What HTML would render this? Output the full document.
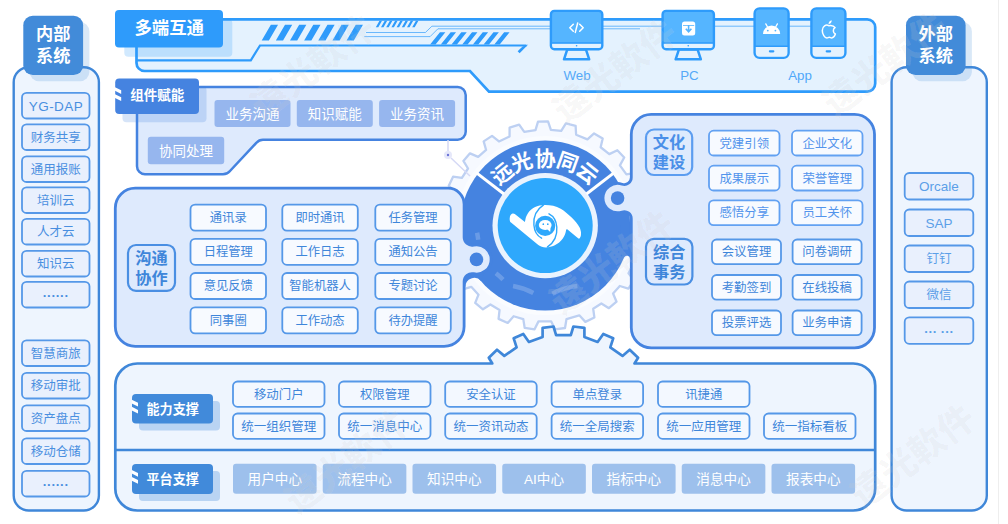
<!DOCTYPE html>
<html lang="zh-CN"><head><meta charset="utf-8"><title>远光协同云</title>
<style>
html,body{margin:0;padding:0;background:#fff;}
body{width:1008px;height:524px;overflow:hidden;}
svg{display:block;font-family:'Liberation Sans','Noto Sans CJK SC',sans-serif;}
</style></head><body>
<svg width="1008" height="524" viewBox="0 0 1008 524">
<rect x="13.7" y="67.2" width="85.2" height="443.3" rx="15" fill="#EEF5FE" stroke="#3F87D9" stroke-width="2.4" />
<rect x="29.6" y="22" width="59.8" height="59.3" rx="9.5" fill="#428BD9" opacity="0.2"/>
<rect x="23.3" y="15.7" width="59.8" height="59.3" rx="9.5" fill="#428BD9" />
<text x="53.2" y="40.49" font-size="17.2" fill="#fff" font-weight="700" text-anchor="middle" >内部</text>
<text x="53.2" y="62.19" font-size="17.2" fill="#fff" font-weight="700" text-anchor="middle" >系统</text>
<rect x="891.6" y="67.2" width="95.2" height="443.3" rx="15" fill="#EEF5FE" stroke="#3F87D9" stroke-width="2.4" />
<rect x="912.3" y="22" width="59.6" height="59.3" rx="9.5" fill="#428BD9" opacity="0.2"/>
<rect x="906" y="15.7" width="59.6" height="59.3" rx="9.5" fill="#428BD9" />
<text x="935.8" y="40.49" font-size="17.2" fill="#fff" font-weight="700" text-anchor="middle" >外部</text>
<text x="935.8" y="62.19" font-size="17.2" fill="#fff" font-weight="700" text-anchor="middle" >系统</text>
<rect x="22" y="92.9" width="67.5" height="25.6" rx="4.6" fill="#E9F0FD" stroke="#5598E8" stroke-width="1.8" />
<text x="55.75" y="110.56" font-size="13.5" fill="#4A8FE0" font-weight="400" text-anchor="middle" textLength="54">YG-DAP</text>
<rect x="22" y="124.4" width="67.5" height="25.6" rx="4.6" fill="#E9F0FD" stroke="#5598E8" stroke-width="1.8" />
<text x="55.75" y="141.7" font-size="12.5" fill="#4A8FE0" font-weight="400" text-anchor="middle" >财务共享</text>
<rect x="22" y="156.4" width="67.5" height="25.6" rx="4.6" fill="#E9F0FD" stroke="#5598E8" stroke-width="1.8" />
<text x="55.75" y="173.7" font-size="12.5" fill="#4A8FE0" font-weight="400" text-anchor="middle" >通用报账</text>
<rect x="22" y="187.4" width="67.5" height="25.6" rx="4.6" fill="#E9F0FD" stroke="#5598E8" stroke-width="1.8" />
<text x="55.75" y="204.7" font-size="12.5" fill="#4A8FE0" font-weight="400" text-anchor="middle" >培训云</text>
<rect x="22" y="218.9" width="67.5" height="25.6" rx="4.6" fill="#E9F0FD" stroke="#5598E8" stroke-width="1.8" />
<text x="55.75" y="236.2" font-size="12.5" fill="#4A8FE0" font-weight="400" text-anchor="middle" >人才云</text>
<rect x="22" y="250.9" width="67.5" height="25.6" rx="4.6" fill="#E9F0FD" stroke="#5598E8" stroke-width="1.8" />
<text x="55.75" y="268.2" font-size="12.5" fill="#4A8FE0" font-weight="400" text-anchor="middle" >知识云</text>
<rect x="22" y="281.9" width="67.5" height="25.6" rx="4.6" fill="#E9F0FD" stroke="#5598E8" stroke-width="1.8" />
<text x="55.75" y="299.68" font-size="13" fill="#4A8FE0" font-weight="700" text-anchor="middle" >······</text>
<rect x="22" y="340.4" width="67.5" height="25.6" rx="4.6" fill="#E9F0FD" stroke="#5598E8" stroke-width="1.8" />
<text x="55.75" y="357.7" font-size="12.5" fill="#4A8FE0" font-weight="400" text-anchor="middle" >智慧商旅</text>
<rect x="22" y="372.9" width="67.5" height="25.6" rx="4.6" fill="#E9F0FD" stroke="#5598E8" stroke-width="1.8" />
<text x="55.75" y="390.2" font-size="12.5" fill="#4A8FE0" font-weight="400" text-anchor="middle" >移动审批</text>
<rect x="22" y="405.4" width="67.5" height="25.6" rx="4.6" fill="#E9F0FD" stroke="#5598E8" stroke-width="1.8" />
<text x="55.75" y="422.7" font-size="12.5" fill="#4A8FE0" font-weight="400" text-anchor="middle" >资产盘点</text>
<rect x="22" y="438.4" width="67.5" height="25.6" rx="4.6" fill="#E9F0FD" stroke="#5598E8" stroke-width="1.8" />
<text x="55.75" y="455.7" font-size="12.5" fill="#4A8FE0" font-weight="400" text-anchor="middle" >移动仓储</text>
<rect x="22" y="470.9" width="67.5" height="25.6" rx="4.6" fill="#E9F0FD" stroke="#5598E8" stroke-width="1.8" />
<text x="55.75" y="488.68" font-size="13" fill="#4A8FE0" font-weight="700" text-anchor="middle" >······</text>
<rect x="904.7" y="173" width="68.6" height="26.5" rx="4.6" fill="#E9F0FD" stroke="#5598E8" stroke-width="1.8" />
<text x="939" y="191.11" font-size="13.5" fill="#5B9FE8" font-weight="400" text-anchor="middle" >Orcale</text>
<rect x="904.7" y="209.5" width="68.6" height="26.5" rx="4.6" fill="#E9F0FD" stroke="#5598E8" stroke-width="1.8" />
<text x="939" y="227.61" font-size="13.5" fill="#5B9FE8" font-weight="400" text-anchor="middle" >SAP</text>
<rect x="904.7" y="245.5" width="68.6" height="26.5" rx="4.6" fill="#E9F0FD" stroke="#5598E8" stroke-width="1.8" />
<text x="939" y="263.25" font-size="12.5" fill="#5B9FE8" font-weight="400" text-anchor="middle" >钉钉</text>
<rect x="904.7" y="281.5" width="68.6" height="26.5" rx="4.6" fill="#E9F0FD" stroke="#5598E8" stroke-width="1.8" />
<text x="939" y="299.25" font-size="12.5" fill="#5B9FE8" font-weight="400" text-anchor="middle" >微信</text>
<rect x="904.7" y="317.3" width="68.6" height="26.5" rx="4.6" fill="#E9F0FD" stroke="#5598E8" stroke-width="1.8" />
<text x="939" y="335.53" font-size="13" fill="#5B9FE8" font-weight="700" text-anchor="middle" >··· ···</text>
<path d="M144.5,19.3 H867.2 a8,8 0 0 1 8,8 V83.6 a8,8 0 0 1 -8,8 H489 L470,71 H144.5 a8,8 0 0 1 -8,-8 V27.3 a8,8 0 0 1 8,-8 Z" fill="#E4F2FE" stroke="#2E9BFB" stroke-width="2.7"/>
<path d="M136.5,60.3 H250.8 L260,45.5 H526.5" fill="none" stroke="#2E9BFB" stroke-width="2.2"/>
<path d="M528.2,44.5 L519.6,53.2 L517.6,51.2 L522.6,46.4 Z" fill="#2E9BFB"/>
<path d="M261.7,40.5 L270.85,24.7 L278.05,24.7 L268.9,40.5 Z M275.85,40.5 L285,24.7 L292.2,24.7 L283.05,40.5 Z M290,40.5 L299.15,24.7 L306.35,24.7 L297.2,40.5 Z M304.15,40.5 L313.3,24.7 L320.5,24.7 L311.35,40.5 Z M318.3,40.5 L327.45,24.7 L334.65,24.7 L325.5,40.5 Z M332.45,40.5 L341.6,24.7 L348.8,24.7 L339.65,40.5 Z M346.6,40.5 L355.75,24.7 L362.95,24.7 L353.8,40.5 Z " fill="#2E9BFB"/>
<path d="M375.8,27.2 L379.51,20.8 L382.01,20.8 L378.3,27.2 Z M381,27.2 L384.71,20.8 L387.21,20.8 L383.5,27.2 Z M386.2,27.2 L389.91,20.8 L392.41,20.8 L388.7,27.2 Z M391.4,27.2 L395.11,20.8 L397.61,20.8 L393.9,27.2 Z M396.6,27.2 L400.31,20.8 L402.81,20.8 L399.1,27.2 Z M401.8,27.2 L405.51,20.8 L408.01,20.8 L404.3,27.2 Z M407,27.2 L410.71,20.8 L413.21,20.8 L409.5,27.2 Z M412.2,27.2 L415.91,20.8 L418.41,20.8 L414.7,27.2 Z " fill="#2E9BFB"/>
<path d="M430.1,44.6 L439.94,32.3 L445.34,32.3 L435.5,44.6 Z M440.8,44.6 L450.64,32.3 L456.04,32.3 L446.2,44.6 Z M451.5,44.6 L461.34,32.3 L466.74,32.3 L456.9,44.6 Z M462.2,44.6 L472.04,32.3 L477.44,32.3 L467.6,44.6 Z M472.9,44.6 L482.74,32.3 L488.14,32.3 L478.3,44.6 Z M483.6,44.6 L493.44,32.3 L498.84,32.3 L489,44.6 Z M494.3,44.6 L504.14,32.3 L509.54,32.3 L499.7,44.6 Z " fill="#2E9BFB"/>
<path d="M366,32.5 H425.4 L431.9,26.2 H811" fill="none" stroke="#2E9BFB" stroke-width="0.9" opacity="0.75"/>
<path d="M364.3,36.6 H430.1 L437.9,28.8 H640" fill="none" stroke="#2E9BFB" stroke-width="0.9" opacity="0.75"/>
<rect x="124.3" y="19.3" width="108" height="37.5" rx="4" fill="#2E9BFB" opacity="0.22"/>
<rect x="115" y="10" width="108" height="37.5" rx="4" fill="#2E9BFB" />
<text x="169.2" y="34.16" font-size="17.4" fill="#fff" font-weight="700" text-anchor="middle" >多端互通</text>
<path d="M567.3,49.4 L564,59.3 H589.2 L585.9,49.4 Z" fill="#E4F2FE" stroke="#2E9BFB" stroke-width="2.5" stroke-linejoin="round"/>
<rect x="550.9" y="10.9" width="51.4" height="38.3" rx="3.5" fill="#55B5FF" stroke="#2E9BFB" stroke-width="2.4" />
<path d="M552.1,43.2 H601.1 V46 a2,2 0 0 1 -2,2 H554.1 a2,2 0 0 1 -2,-2 Z" fill="#E4F2FE"/>
<line x1="550.9" y1="43" x2="602.3" y2="43" stroke="#2E9BFB" stroke-width="1.6"/>
<circle cx="576.6" cy="45.8" r="0.8" fill="#2E9BFB"/>
<text x="577" y="79.79" font-size="13.3" fill="#55A9F8" font-weight="400" text-anchor="middle" >Web</text>
<path d="M678.95,49.4 L675.65,59.3 H700.85 L697.55,49.4 Z" fill="#E4F2FE" stroke="#2E9BFB" stroke-width="2.5" stroke-linejoin="round"/>
<rect x="662.6" y="10.9" width="51.3" height="38.3" rx="3.5" fill="#55B5FF" stroke="#2E9BFB" stroke-width="2.4" />
<path d="M663.8,43.2 H712.7 V46 a2,2 0 0 1 -2,2 H665.8 a2,2 0 0 1 -2,-2 Z" fill="#E4F2FE"/>
<line x1="662.6" y1="43" x2="713.9" y2="43" stroke="#2E9BFB" stroke-width="1.6"/>
<circle cx="688.25" cy="45.8" r="0.8" fill="#2E9BFB"/>
<text x="689.5" y="79.79" font-size="13.3" fill="#55A9F8" font-weight="400" text-anchor="middle" >PC</text>
<path d="M573.3,24.2 L569.8,27.7 L573.3,31.2 M579.7,24.2 L583.2,27.7 L579.7,31.2 M577.7,23 L575.3,32.4" fill="none" stroke="#fff" stroke-width="1.5" stroke-linecap="round" stroke-linejoin="round"/>
<rect x="682" y="21.6" width="13.2" height="14" rx="2.5" fill="#fff" />
<path d="M688.6,25 V31.5 M685.8,28.8 L688.6,31.8 L691.4,28.8" fill="none" stroke="#55B5FF" stroke-width="1.6"/>
<path d="M683,25.5 H694.2" stroke="#55B5FF" stroke-width="0.8" fill="none"/>
<rect x="754.6" y="8.4" width="34" height="49.5" rx="5" fill="#55B5FF" stroke="#2E9BFB" stroke-width="2.4" />
<path d="M755.8,46.4 H787.4 V52.7 a4,4 0 0 1 -4,4 H759.8 a4,4 0 0 1 -4,-4 Z" fill="#E4F2FE"/>
<line x1="754.6" y1="46.3" x2="788.6" y2="46.3" stroke="#2E9BFB" stroke-width="1.6"/>
<rect x="768.8" y="50.2" width="5.6" height="2.2" rx="1.1" fill="#2E9BFB" />
<rect x="811.4" y="8.4" width="34" height="49.5" rx="5" fill="#55B5FF" stroke="#2E9BFB" stroke-width="2.4" />
<path d="M812.6,46.4 H844.2 V52.7 a4,4 0 0 1 -4,4 H816.6 a4,4 0 0 1 -4,-4 Z" fill="#E4F2FE"/>
<line x1="811.4" y1="46.3" x2="845.4" y2="46.3" stroke="#2E9BFB" stroke-width="1.6"/>
<rect x="825.6" y="50.2" width="5.6" height="2.2" rx="1.1" fill="#2E9BFB" />
<text x="800" y="79.79" font-size="13.3" fill="#4FA8FA" font-weight="400" text-anchor="middle" >App</text>
<path d="M763,34 a8.6,8.6 0 0 1 17.2,0 Z" fill="#fff"/>
<path d="M767.4,26.8 l-1.6,-2.9 M775.8,26.8 l1.6,-2.9" stroke="#fff" stroke-width="1.3" stroke-linecap="round"/>
<circle cx="767.8" cy="30.6" r="0.9" fill="#55B5FF"/><circle cx="775.4" cy="30.6" r="0.9" fill="#55B5FF"/>
<path d="M828.7,25.7 c-2.4,-1.5 -6.4,0.2 -6.4,4.8 c0,4 2.4,7.4 4.6,7.4 c1,0 1.4,-0.6 2.4,-0.6 c1,0 1.4,0.6 2.4,0.6 c1.6,0 3,-2 3.7,-3.9 c-2.6,-1.1 -2.8,-5 -0.3,-6.3 c-1.3,-1.9 -3.9,-2.5 -6.4,-2 Z" fill="none" stroke="#fff" stroke-width="1.5" stroke-linejoin="round"/>
<path d="M828.5,24.1 c0,-2 1.4,-3.6 3.2,-3.8 c0.2,2 -1.4,3.8 -3.2,3.8 Z" fill="#fff"/>
<path d="M145,87 H457.7 a8,8 0 0 1 8,8 V131.7 a8,8 0 0 1 -8,8 H263 q-4,0 -6.5,3 L230,171 q-2.5,3.2 -7,3.2 H145 a8,8 0 0 1 -8,-8 V95 a8,8 0 0 1 8,-8 Z" fill="#DEEAFD" stroke="#4583E0" stroke-width="2.5"/>
<rect x="122.5" y="86.3" width="84" height="35.9" rx="4" fill="#4583E0" opacity="0.22"/>
<rect x="115.2" y="78.4" width="83.8" height="35.7" rx="4" fill="#4583E0" />
<path d="M115,87.15 l6.2,3.1 v3.7 l-6.2,-3.1 Z" fill="#fff"/>
<path d="M115,94.25 l6.2,3.1 v3.7 l-6.2,-3.1 Z" fill="#fff"/>
<text x="157.3" y="100.43" font-size="13.55" fill="#fff" font-weight="700" text-anchor="middle" >组件赋能</text>
<rect x="214.5" y="100" width="76" height="27" rx="3" fill="#96B6EE" />
<text x="252.5" y="118.86" font-size="13.5" fill="#fff" font-weight="400" text-anchor="middle" >业务沟通</text>
<rect x="296.8" y="100" width="76" height="27" rx="3" fill="#96B6EE" />
<text x="334.8" y="118.86" font-size="13.5" fill="#fff" font-weight="400" text-anchor="middle" >知识赋能</text>
<rect x="379.1" y="100" width="76" height="27" rx="3" fill="#96B6EE" />
<text x="417.1" y="118.86" font-size="13.5" fill="#fff" font-weight="400" text-anchor="middle" >业务资讯</text>
<rect x="147.8" y="136.7" width="76.4" height="27.5" rx="3" fill="#96B6EE" />
<text x="186" y="155.81" font-size="13.5" fill="#fff" font-weight="400" text-anchor="middle" >协同处理</text>
<path d="M449.52,217.73 L441.58,213.7 L443.2,203.83 L452.01,202.54 L455.34,191.82 L448.8,185.77 L453.07,176.71 L461.89,177.89 L468.03,168.5 L463.4,160.89 L469.98,153.34 L478.15,156.89 L486.1,149.95 L483.67,141.38 L492.03,135.87 L498.95,141.47 L509.55,136.47 L509.61,127.56 L519.17,124.6 L524.26,131.91 L535.5,130.09 L538.02,121.55 L548.02,121.34 L550.89,129.77 L561.21,130.94 L565.9,123.38 L575.61,125.83 L576.14,134.72 L587.43,139.39 L594.09,133.47 L602.69,138.58 L600.67,147.25 L609.31,154.15 L617.32,150.26 L624.21,157.52 L619.91,165.32 L626.43,174.44 L635.21,172.9 L639.84,181.77 L633.57,188.09 L637.34,198.66 L646.2,199.57 L648.23,209.37 L640.46,213.73 L641.19,224.59 L649.48,227.88 L648.78,237.86 L640.12,239.96 L638.18,249.47 L645.33,254.79 L642.07,264.25 L633.17,264.03 L628.51,273.31 L633.99,280.33 L628.33,288.59 L619.81,286.01 L613.08,293.48 L616.53,301.69 L608.91,308.18 L601.36,303.46 L593.2,308.74 L594.41,317.56 L585.37,321.86 L579.29,315.34 L566.47,319.21 L565.01,328 L555.11,329.43 L551.23,321.41 L538.5,321.37 L534.57,329.36 L524.67,327.86 L523.28,319.06 L513.63,316.26 L507.74,322.94 L498.58,318.9 L499.54,310.05 L490.41,304.43 L482.94,309.28 L475.21,302.93 L478.51,294.66 L471.23,286.79 L462.73,289.45 L456.99,281.26 L462.4,274.18 L457.57,264.8 L448.67,265.09 L445.33,255.66 L452.43,250.28 L450.41,240.78 L441.73,238.76 L440.95,228.79 L449.2,225.43 Z" fill="#F6F9FF" stroke="#BDD0F2" stroke-width="2.3" stroke-linejoin="round"/>
<circle cx="545.2" cy="225.6" r="89.5" fill="#FAFCFF"/>
<path d="M448,140 V152 M451,158 L470,176" stroke="#D5D9F5" stroke-width="1.5" fill="none"/>
<circle cx="448" cy="155" r="4" fill="#E6E8FA"/><circle cx="448" cy="155" r="1.2" fill="#6C74D8"/>
<circle cx="545.2" cy="225.6" r="85" fill="#4583E0"/>
<path d="M464.1,268 V286.8 H465.35 A9,9 0 0 1 481,280.9 L486,268 Z" fill="#4583E0"/>
<path d="M631.3,225 V258.7 H630 A3,3 0 0 0 624.2,257.6 L620,225 Z" fill="#4583E0"/>
<path d="M135.3,188.2 H448.1 a16,16 0 0 1 16,16 V237.23 A8,8 0 0 0 473.66,245.08 A14.6,14.6 0 1 1 473.66,273.72 A8,8 0 0 0 464.1,281.57 V326.4 a20,20 0 0 1 -20,20 H135.3 a20,20 0 0 1 -20,-20 V208.2 a20,20 0 0 1 20,-20 Z" fill="#DEEAFD" stroke="#4583E0" stroke-width="2.8"/>
<circle cx="476.5" cy="259.4" r="6.8" fill="#4583E0"/>
<path d="M651.3,114.3 H854.5 a20,20 0 0 1 20,20 V327.8 a20,20 0 0 1 -20,20 H651.3 a20,20 0 0 1 -20,-20 V218.63 A7,7 0 0 0 622.13,211.98 A14.6,14.6 0 1 1 622.13,184.22 A7,7 0 0 0 631.3,177.57 V134.3 a20,20 0 0 1 20,-20 Z" fill="#DEEAFD" stroke="#4583E0" stroke-width="2.8"/>
<circle cx="617.6" cy="198.1" r="6.8" fill="#4583E0"/>
<circle cx="545.2" cy="225.6" r="52.7" fill="#EAF3FE"/>
<circle cx="545.2" cy="225.6" r="47.5" fill="#2EA8FC"/>
<line x1="503.95" y1="193.94" x2="476.18" y2="172.64" stroke="#fff" stroke-width="3"/>
<line x1="586.45" y1="193.94" x2="614.22" y2="172.64" stroke="#fff" stroke-width="3"/>
<text x="545.2" y="165.8" font-size="21" font-weight="700" fill="#fff" text-anchor="middle" transform="rotate(-39.5 545.2 225.6)">远</text>
<text x="545.2" y="165.8" font-size="21" font-weight="700" fill="#fff" text-anchor="middle" transform="rotate(-20.5 545.2 225.6)">光</text>
<text x="545.2" y="165.8" font-size="21" font-weight="700" fill="#fff" text-anchor="middle" transform="rotate(0 545.2 225.6)">协</text>
<text x="545.2" y="165.8" font-size="21" font-weight="700" fill="#fff" text-anchor="middle" transform="rotate(19.5 545.2 225.6)">同</text>
<text x="545.2" y="165.8" font-size="21" font-weight="700" fill="#fff" text-anchor="middle" transform="rotate(38.8 545.2 225.6)">云</text>
<path fill="#fff" d="M545.2,204.9 C541,204.9 537.6,205.8 535.1,207.1 C532,208.8 529.6,210.8 528.1,213 C526.6,215.2 525.8,217.4 525.4,219.4 L524.9,222 L514.8,214 C514,213.4 513.3,213.3 512.6,213.5 C511.2,214 510.2,215.2 509.9,216.7 C509.6,218.2 509.5,219.6 509.9,221 C510.1,221.7 510.5,222.2 511,222.6 L538.3,245 C540.5,246.6 543,247.4 545.7,247.4 C549,247.4 551.8,246.8 554.3,245.6 C558,243.8 560.8,241.4 562.8,238.6 C564.6,236 565.7,233.2 566.1,230.1 L566.9,229 L577.8,238.1 C578.3,238.5 578.9,238.7 579.4,238.6 C580.6,237.4 580.9,235.8 581,234.3 C581.1,232.8 581,231.4 580.5,230.1 C580.3,229.4 580.2,228.6 579.9,227.9 C577.6,223.8 574.8,220.4 571.4,217.2 C568,214 564.6,211 560.7,208.7 C558.3,207.3 555.8,206.3 553.2,205.7 C550.6,205.1 548,204.9 545.2,204.9 Z"/><circle cx="545.2" cy="225.8" r="10.1" fill="#2EA8FC"/><path d="M543.3,205.2 C536.7,209.5 533.3,217 533.9,225 C534.4,231.5 537.4,236 541.6,238.2" fill="none" stroke="#2EA8FC" stroke-width="1.4" stroke-linecap="round"/><path d="M547.5,246.9 C554.1,242.5 557.4,235 556.8,227 C556.3,220.5 553.3,216 549,213.8" fill="none" stroke="#2EA8FC" stroke-width="1.4" stroke-linecap="round"/><ellipse cx="545.2" cy="225" rx="6.4" ry="5.1" fill="#fff"/><path d="M546.6,228.6 L550.2,232 L550.6,227 Z" fill="#fff"/><circle cx="543.3" cy="224.2" r="0.85" fill="#2EA8FC"/><circle cx="547.8" cy="224.2" r="0.85" fill="#2EA8FC"/>
<path d="M478.2,239.84 A68.5,68.5 0 0 0 477.08,232.76" fill="none" stroke="#fff" stroke-opacity="0.2" stroke-width="4.5"/>
<path d="M485.88,259.85 A68.5,68.5 0 0 0 482.62,253.46" fill="none" stroke="#fff" stroke-opacity="0.2" stroke-width="4.5"/>
<path d="M503.03,279.58 A68.5,68.5 0 0 0 495.93,273.18" fill="none" stroke="#fff" stroke-opacity="0.2" stroke-width="4.5"/>
<path d="M533.31,293.06 A68.5,68.5 0 0 0 513.04,286.08" fill="none" stroke="#fff" stroke-opacity="0.2" stroke-width="4.5"/>
<path d="M577.36,286.08 A68.5,68.5 0 0 0 552.36,293.72" fill="none" stroke="#fff" stroke-opacity="0.2" stroke-width="4.5"/>
<rect x="128" y="245" width="47" height="45.8" rx="8" fill="#DEEAFD" stroke="#4A8FE3" stroke-width="2.2" />
<text x="151.5" y="264.13" font-size="16.2" fill="#3E86DA" font-weight="700" text-anchor="middle" >沟通</text>
<text x="151.5" y="284.13" font-size="16.2" fill="#3E86DA" font-weight="700" text-anchor="middle" >协作</text>
<rect x="190.5" y="204.6" width="75.5" height="26" rx="4.6" fill="#F7FAFF" stroke="#5598E8" stroke-width="1.8" />
<text x="228.25" y="222.03" font-size="12.3" fill="#3E86DA" font-weight="400" text-anchor="middle" >通讯录</text>
<rect x="282.3" y="204.6" width="75.5" height="26" rx="4.6" fill="#F7FAFF" stroke="#5598E8" stroke-width="1.8" />
<text x="320.05" y="222.03" font-size="12.3" fill="#3E86DA" font-weight="400" text-anchor="middle" >即时通讯</text>
<rect x="375.3" y="204.6" width="75.5" height="26" rx="4.6" fill="#F7FAFF" stroke="#5598E8" stroke-width="1.8" />
<text x="413.05" y="222.03" font-size="12.3" fill="#3E86DA" font-weight="400" text-anchor="middle" >任务管理</text>
<rect x="190.5" y="238.8" width="75.5" height="26" rx="4.6" fill="#F7FAFF" stroke="#5598E8" stroke-width="1.8" />
<text x="228.25" y="256.23" font-size="12.3" fill="#3E86DA" font-weight="400" text-anchor="middle" >日程管理</text>
<rect x="282.3" y="238.8" width="75.5" height="26" rx="4.6" fill="#F7FAFF" stroke="#5598E8" stroke-width="1.8" />
<text x="320.05" y="256.23" font-size="12.3" fill="#3E86DA" font-weight="400" text-anchor="middle" >工作日志</text>
<rect x="375.3" y="238.8" width="75.5" height="26" rx="4.6" fill="#F7FAFF" stroke="#5598E8" stroke-width="1.8" />
<text x="413.05" y="256.23" font-size="12.3" fill="#3E86DA" font-weight="400" text-anchor="middle" >通知公告</text>
<rect x="190.5" y="273" width="75.5" height="26" rx="4.6" fill="#F7FAFF" stroke="#5598E8" stroke-width="1.8" />
<text x="228.25" y="290.43" font-size="12.3" fill="#3E86DA" font-weight="400" text-anchor="middle" >意见反馈</text>
<rect x="282.3" y="273" width="75.5" height="26" rx="4.6" fill="#F7FAFF" stroke="#5598E8" stroke-width="1.8" />
<text x="320.05" y="290.43" font-size="12.3" fill="#3E86DA" font-weight="400" text-anchor="middle" >智能机器人</text>
<rect x="375.3" y="273" width="75.5" height="26" rx="4.6" fill="#F7FAFF" stroke="#5598E8" stroke-width="1.8" />
<text x="413.05" y="290.43" font-size="12.3" fill="#3E86DA" font-weight="400" text-anchor="middle" >专题讨论</text>
<rect x="190.5" y="307.4" width="75.5" height="26" rx="4.6" fill="#F7FAFF" stroke="#5598E8" stroke-width="1.8" />
<text x="228.25" y="324.83" font-size="12.3" fill="#3E86DA" font-weight="400" text-anchor="middle" >同事圈</text>
<rect x="282.3" y="307.4" width="75.5" height="26" rx="4.6" fill="#F7FAFF" stroke="#5598E8" stroke-width="1.8" />
<text x="320.05" y="324.83" font-size="12.3" fill="#3E86DA" font-weight="400" text-anchor="middle" >工作动态</text>
<rect x="375.3" y="307.4" width="75.5" height="26" rx="4.6" fill="#F7FAFF" stroke="#5598E8" stroke-width="1.8" />
<text x="413.05" y="324.83" font-size="12.3" fill="#3E86DA" font-weight="400" text-anchor="middle" >待办提醒</text>
<rect x="646" y="129.5" width="46.2" height="45.5" rx="8" fill="#DEEAFD" stroke="#5C9DF0" stroke-width="2.2" />
<text x="669" y="148.33" font-size="16.2" fill="#4A8FE8" font-weight="700" text-anchor="middle" >文化</text>
<text x="669" y="168.33" font-size="16.2" fill="#4A8FE8" font-weight="700" text-anchor="middle" >建设</text>
<rect x="646" y="238.8" width="46.4" height="45.7" rx="8" fill="#DEEAFD" stroke="#4A8FE3" stroke-width="2.2" />
<text x="669.2" y="257.83" font-size="16.2" fill="#3E86DA" font-weight="700" text-anchor="middle" >综合</text>
<text x="669.2" y="277.83" font-size="16.2" fill="#3E86DA" font-weight="700" text-anchor="middle" >事务</text>
<rect x="709" y="130.7" width="70.5" height="24.8" rx="4.6" fill="#F7FAFF" stroke="#62A1F2" stroke-width="1.8" />
<text x="744.25" y="147.56" font-size="12.4" fill="#5294EC" font-weight="400" text-anchor="middle" >党建引领</text>
<rect x="792" y="130.7" width="70.5" height="24.8" rx="4.6" fill="#F7FAFF" stroke="#62A1F2" stroke-width="1.8" />
<text x="827.25" y="147.56" font-size="12.4" fill="#5294EC" font-weight="400" text-anchor="middle" >企业文化</text>
<rect x="709" y="165.7" width="70.5" height="24.8" rx="4.6" fill="#F7FAFF" stroke="#62A1F2" stroke-width="1.8" />
<text x="744.25" y="182.56" font-size="12.4" fill="#5294EC" font-weight="400" text-anchor="middle" >成果展示</text>
<rect x="792" y="165.7" width="70.5" height="24.8" rx="4.6" fill="#F7FAFF" stroke="#62A1F2" stroke-width="1.8" />
<text x="827.25" y="182.56" font-size="12.4" fill="#5294EC" font-weight="400" text-anchor="middle" >荣誉管理</text>
<rect x="709" y="200.3" width="70.5" height="24.8" rx="4.6" fill="#F7FAFF" stroke="#62A1F2" stroke-width="1.8" />
<text x="744.25" y="217.16" font-size="12.4" fill="#5294EC" font-weight="400" text-anchor="middle" >感悟分享</text>
<rect x="792" y="200.3" width="70.5" height="24.8" rx="4.6" fill="#F7FAFF" stroke="#62A1F2" stroke-width="1.8" />
<text x="827.25" y="217.16" font-size="12.4" fill="#5294EC" font-weight="400" text-anchor="middle" >员工关怀</text>
<rect x="712" y="239.5" width="69" height="24.6" rx="4.6" fill="#F7FAFF" stroke="#5598E8" stroke-width="1.8" />
<text x="746.5" y="256.26" font-size="12.4" fill="#3E86DA" font-weight="400" text-anchor="middle" >会议管理</text>
<rect x="792.6" y="239.5" width="69" height="24.6" rx="4.6" fill="#F7FAFF" stroke="#5598E8" stroke-width="1.8" />
<text x="827.1" y="256.26" font-size="12.4" fill="#3E86DA" font-weight="400" text-anchor="middle" >问卷调研</text>
<rect x="712" y="275" width="69" height="24.6" rx="4.6" fill="#F7FAFF" stroke="#5598E8" stroke-width="1.8" />
<text x="746.5" y="291.76" font-size="12.4" fill="#3E86DA" font-weight="400" text-anchor="middle" >考勤签到</text>
<rect x="792.6" y="275" width="69" height="24.6" rx="4.6" fill="#F7FAFF" stroke="#5598E8" stroke-width="1.8" />
<text x="827.1" y="291.76" font-size="12.4" fill="#3E86DA" font-weight="400" text-anchor="middle" >在线投稿</text>
<rect x="712" y="310.5" width="69" height="24.6" rx="4.6" fill="#F7FAFF" stroke="#5598E8" stroke-width="1.8" />
<text x="746.5" y="327.26" font-size="12.4" fill="#3E86DA" font-weight="400" text-anchor="middle" >投票评选</text>
<rect x="792.6" y="310.5" width="69" height="24.6" rx="4.6" fill="#F7FAFF" stroke="#5598E8" stroke-width="1.8" />
<text x="827.1" y="327.26" font-size="12.4" fill="#3E86DA" font-weight="400" text-anchor="middle" >业务申请</text>
<path d="M137.3,363.5 L492.3,363.5 L488.8,357.8 L497,349.7 L504.3,355.9 L516.6,347.4 L513.7,338.3 L523.3,334 L528.9,342 L542.6,337 L542.6,327.8 L553.5,326.5 L556.1,335.1 L570.8,335.1 L573.4,326.5 L584.4,327.8 L584.4,337.1 L597.6,342 L603.3,334 L613.2,338.3 L610.3,347.4 L622.5,355.9 L629.7,349.7 L638.1,357.8 L634.5,363.5 H853.2 a22,22 0 0 1 22,22 V488.5 a22,22 0 0 1 -22,22 H137.3 a22,22 0 0 1 -22,-22 V385.5 a22,22 0 0 1 22,-22 Z" fill="#EEF5FE" stroke="#3F87D9" stroke-width="2.7" stroke-linejoin="round"/>
<line x1="115.3" y1="450" x2="875.2" y2="450" stroke="#3F87D9" stroke-width="2.3"/>
<rect x="139" y="401" width="81" height="29.6" rx="4" fill="#3F87D9" opacity="0.3"/>
<rect x="132" y="394" width="81" height="29.6" rx="4" fill="#418ADA" />
<path d="M131.8,399.7 l6.2,3.1 v3.7 l-6.2,-3.1 Z" fill="#fff"/>
<path d="M131.8,406.8 l6.2,3.1 v3.7 l-6.2,-3.1 Z" fill="#fff"/>
<text x="172.7" y="413.72" font-size="13.1" fill="#fff" font-weight="700" text-anchor="middle" >能力支撑</text>
<rect x="139" y="471" width="81" height="30" rx="4" fill="#3F87D9" opacity="0.3"/>
<rect x="132" y="464" width="81" height="30" rx="4" fill="#418ADA" />
<path d="M131.8,469.9 l6.2,3.1 v3.7 l-6.2,-3.1 Z" fill="#fff"/>
<path d="M131.8,477 l6.2,3.1 v3.7 l-6.2,-3.1 Z" fill="#fff"/>
<text x="172.7" y="483.92" font-size="13.1" fill="#fff" font-weight="700" text-anchor="middle" >平台支撑</text>
<rect x="233" y="381.5" width="91.5" height="25.3" rx="4.6" fill="#F3F8FF" stroke="#5598E8" stroke-width="1.8" />
<text x="278.75" y="399.11" font-size="12.4" fill="#3E86DA" font-weight="400" text-anchor="middle" >移动门户</text>
<rect x="339" y="381.5" width="91.5" height="25.3" rx="4.6" fill="#F3F8FF" stroke="#5598E8" stroke-width="1.8" />
<text x="384.75" y="399.11" font-size="12.4" fill="#3E86DA" font-weight="400" text-anchor="middle" >权限管理</text>
<rect x="445.2" y="381.5" width="91.5" height="25.3" rx="4.6" fill="#F3F8FF" stroke="#5598E8" stroke-width="1.8" />
<text x="490.95" y="399.11" font-size="12.4" fill="#3E86DA" font-weight="400" text-anchor="middle" >安全认证</text>
<rect x="551.6" y="381.5" width="91.5" height="25.3" rx="4.6" fill="#F3F8FF" stroke="#5598E8" stroke-width="1.8" />
<text x="597.35" y="399.11" font-size="12.4" fill="#3E86DA" font-weight="400" text-anchor="middle" >单点登录</text>
<rect x="658" y="381.5" width="91.5" height="25.3" rx="4.6" fill="#F3F8FF" stroke="#5598E8" stroke-width="1.8" />
<text x="703.75" y="399.11" font-size="12.4" fill="#3E86DA" font-weight="400" text-anchor="middle" >讯捷通</text>
<rect x="233" y="413.5" width="91.5" height="25.3" rx="4.6" fill="#F3F8FF" stroke="#5598E8" stroke-width="1.8" />
<text x="278.75" y="431.15" font-size="12.5" fill="#3E86DA" font-weight="400" text-anchor="middle" >统一组织管理</text>
<rect x="339" y="413.5" width="91.5" height="25.3" rx="4.6" fill="#F3F8FF" stroke="#5598E8" stroke-width="1.8" />
<text x="384.75" y="431.15" font-size="12.5" fill="#3E86DA" font-weight="400" text-anchor="middle" >统一消息中心</text>
<rect x="445.2" y="413.5" width="91.5" height="25.3" rx="4.6" fill="#F3F8FF" stroke="#5598E8" stroke-width="1.8" />
<text x="490.95" y="431.15" font-size="12.5" fill="#3E86DA" font-weight="400" text-anchor="middle" >统一资讯动态</text>
<rect x="551.6" y="413.5" width="91.5" height="25.3" rx="4.6" fill="#F3F8FF" stroke="#5598E8" stroke-width="1.8" />
<text x="597.35" y="431.15" font-size="12.5" fill="#3E86DA" font-weight="400" text-anchor="middle" >统一全局搜索</text>
<rect x="658" y="413.5" width="91.5" height="25.3" rx="4.6" fill="#F3F8FF" stroke="#5598E8" stroke-width="1.8" />
<text x="703.75" y="431.15" font-size="12.5" fill="#3E86DA" font-weight="400" text-anchor="middle" >统一应用管理</text>
<rect x="764" y="413.5" width="91.5" height="25.3" rx="4.6" fill="#F3F8FF" stroke="#5598E8" stroke-width="1.8" />
<text x="809.75" y="431.15" font-size="12.5" fill="#3E86DA" font-weight="400" text-anchor="middle" >统一指标看板</text>
<rect x="233" y="463.8" width="83.6" height="30" rx="3" fill="#9DC0EC" />
<text x="274.8" y="484.2" font-size="13.6" fill="#fff" font-weight="400" text-anchor="middle" >用户中心</text>
<rect x="322.75" y="463.8" width="83.6" height="30" rx="3" fill="#9DC0EC" />
<text x="364.55" y="484.2" font-size="13.6" fill="#fff" font-weight="400" text-anchor="middle" >流程中心</text>
<rect x="412.5" y="463.8" width="83.6" height="30" rx="3" fill="#9DC0EC" />
<text x="454.3" y="484.2" font-size="13.6" fill="#fff" font-weight="400" text-anchor="middle" >知识中心</text>
<rect x="502.25" y="463.8" width="83.6" height="30" rx="3" fill="#9DC0EC" />
<text x="544.05" y="484.2" font-size="13.6" fill="#fff" font-weight="400" text-anchor="middle" >AI中心</text>
<rect x="592" y="463.8" width="83.6" height="30" rx="3" fill="#9DC0EC" />
<text x="633.8" y="484.2" font-size="13.6" fill="#fff" font-weight="400" text-anchor="middle" >指标中心</text>
<rect x="681.75" y="463.8" width="83.6" height="30" rx="3" fill="#9DC0EC" />
<text x="723.55" y="484.2" font-size="13.6" fill="#fff" font-weight="400" text-anchor="middle" >消息中心</text>
<rect x="771.5" y="463.8" width="83.6" height="30" rx="3" fill="#9DC0EC" />
<text x="813.3" y="484.2" font-size="13.6" fill="#fff" font-weight="400" text-anchor="middle" >报表中心</text>
<text x="562" y="316" font-size="36" font-weight="900" fill="#000" fill-opacity="0.035" transform="rotate(-37 562 316)" letter-spacing="0">遠光軟件</text>
<text x="562" y="316" font-size="36" font-weight="900" fill="#fff" fill-opacity="0.13" transform="rotate(-37 562 316)" letter-spacing="0">遠光軟件</text>
<text x="565" y="125" font-size="36" font-weight="900" fill="#000" fill-opacity="0.035" transform="rotate(-37 565 125)" letter-spacing="0">遠光軟件</text>
<text x="565" y="125" font-size="36" font-weight="900" fill="#fff" fill-opacity="0.13" transform="rotate(-37 565 125)" letter-spacing="0">遠光軟件</text>
<text x="863" y="510" font-size="36" font-weight="900" fill="#000" fill-opacity="0.035" transform="rotate(-37 863 510)" letter-spacing="0">遠光軟件</text>
<text x="863" y="510" font-size="36" font-weight="900" fill="#fff" fill-opacity="0.13" transform="rotate(-37 863 510)" letter-spacing="0">遠光軟件</text>
<text x="297" y="515" font-size="36" font-weight="900" fill="#000" fill-opacity="0.035" transform="rotate(-37 297 515)" letter-spacing="0">遠光軟件</text>
<text x="297" y="515" font-size="36" font-weight="900" fill="#fff" fill-opacity="0.13" transform="rotate(-37 297 515)" letter-spacing="0">遠光軟件</text>
<text x="835" y="118" font-size="36" font-weight="900" fill="#000" fill-opacity="0.035" transform="rotate(-37 835 118)" letter-spacing="0">遠光軟件</text>
<text x="835" y="118" font-size="36" font-weight="900" fill="#fff" fill-opacity="0.13" transform="rotate(-37 835 118)" letter-spacing="0">遠光軟件</text>
<text x="263" y="120" font-size="36" font-weight="900" fill="#000" fill-opacity="0.035" transform="rotate(-37 263 120)" letter-spacing="0">遠光軟件</text>
<text x="263" y="120" font-size="36" font-weight="900" fill="#fff" fill-opacity="0.13" transform="rotate(-37 263 120)" letter-spacing="0">遠光軟件</text>
<line x1="998.5" y1="0" x2="998.5" y2="524" stroke="#EEEEEE" stroke-width="1"/>
</svg>
</body></html>
